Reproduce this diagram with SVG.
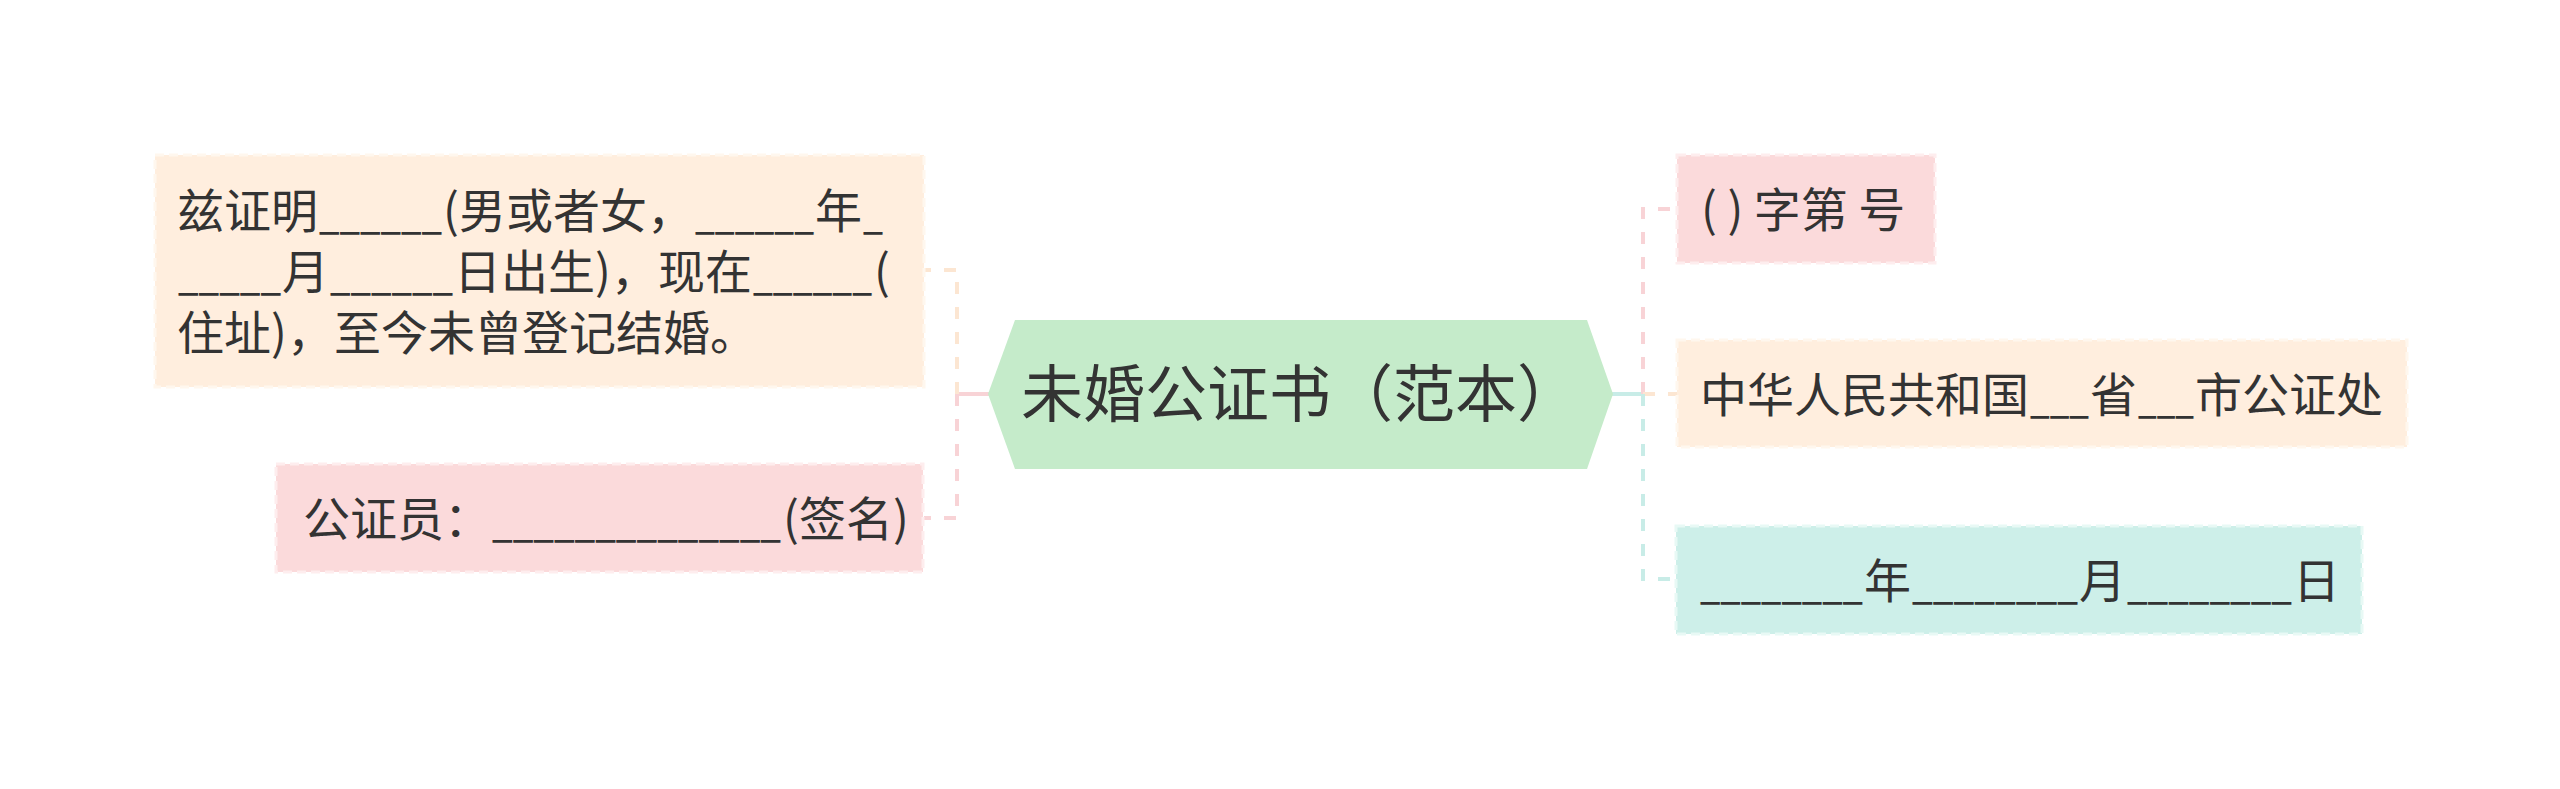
<svg xmlns="http://www.w3.org/2000/svg" width="2560" height="789" viewBox="0 0 2560 789">
<style>
.t{font-family:"Noto Sans CJK SC","Noto Sans",sans-serif;font-size:47px;fill:#333333}
.title{font-size:62px;text-anchor:middle}
.peach{fill:#FFEEDE;stroke:#FFF7EE;stroke-width:3;stroke-dasharray:9 5}
.pink{fill:#FBDADB;stroke:#FEEDEE;stroke-width:3;stroke-dasharray:9 5}
.teal{fill:#CDEFE9;stroke:#E8F9F5;stroke-width:3;stroke-dasharray:9 5}
.center{fill:#C5EBCA}
.c{fill:none;stroke-width:4}
.d{stroke-dasharray:12 13}
.cp{stroke:#FCE6D2}
.ck{stroke:#F8D3D6}
.ct{stroke:#C8ECE7}
</style>
<rect width="2560" height="789" fill="#ffffff"/>
<g id="connectors">
<path class="c ck" d="M989,394 H957"/>
<path class="c cp d" d="M957,394 V270 H924"/>
<path class="c ck d" d="M957,394 V518 H924"/>
<path class="c ct" d="M1610,394 H1643"/>
<path class="c ck d" d="M1643,394 V209 H1677"/>
<path class="c cp d" d="M1643,394 H1677"/>
<path class="c ct d" d="M1643,394 V579 H1677"/>
</g>
<g id="node-center">
<polygon class="center" points="988,394 1015,320 1587,320 1613,394 1587,469 1015,469"/>
<text class="t title" x="1300" y="417">未婚公证书（范本）</text>
</g>
<g id="node-left1">
<rect class="peach" x="155" y="155" width="769" height="232"/>
<text class="t" y="228"><tspan x="177">兹证明</tspan><tspan x="319" textLength="123" lengthAdjust="spacingAndGlyphs">______</tspan><tspan x="443">(男或者女，</tspan><tspan x="695" textLength="119" lengthAdjust="spacingAndGlyphs">______</tspan><tspan x="815">年</tspan><tspan x="863" textLength="20" lengthAdjust="spacingAndGlyphs">_</tspan></text>
<text class="t" y="289"><tspan x="178" textLength="103" lengthAdjust="spacingAndGlyphs">_____</tspan><tspan x="282">月</tspan><tspan x="330" textLength="123" lengthAdjust="spacingAndGlyphs">______</tspan><tspan x="454">日出生)，现在</tspan><tspan x="753" textLength="119" lengthAdjust="spacingAndGlyphs">______</tspan><tspan x="874">(</tspan></text>
<text class="t" x="177" y="350">住址)，至今未曾登记结婚。</text>
</g>
<g id="node-left2">
<rect class="pink" x="276" y="464" width="647" height="108"/>
<text class="t" y="536"><tspan x="303">公证员：</tspan><tspan x="492" textLength="289" lengthAdjust="spacingAndGlyphs">______________</tspan><tspan x="783">(签名)</tspan></text>
</g>
<g id="node-right1">
<rect class="pink" x="1677" y="155" width="258" height="108"/>
<text class="t" x="1701" y="227">( ) 字第 号</text>
</g>
<g id="node-right2">
<rect class="peach" x="1677" y="340" width="730" height="107"/>
<text class="t" y="412"><tspan x="1700">中华人民共和国</tspan><tspan x="2030" textLength="59" lengthAdjust="spacingAndGlyphs">___</tspan><tspan x="2090">省</tspan><tspan x="2138" textLength="56" lengthAdjust="spacingAndGlyphs">___</tspan><tspan x="2195">市公证处</tspan></text>
</g>
<g id="node-right3">
<rect class="teal" x="1676" y="526" width="686" height="108"/>
<text class="t" y="598"><tspan x="1700" textLength="163" lengthAdjust="spacingAndGlyphs">________</tspan><tspan x="1864">年</tspan><tspan x="1912" textLength="166" lengthAdjust="spacingAndGlyphs">________</tspan><tspan x="2079">月</tspan><tspan x="2127" textLength="165" lengthAdjust="spacingAndGlyphs">________</tspan><tspan x="2293">日</tspan></text>
</g>
</svg>
